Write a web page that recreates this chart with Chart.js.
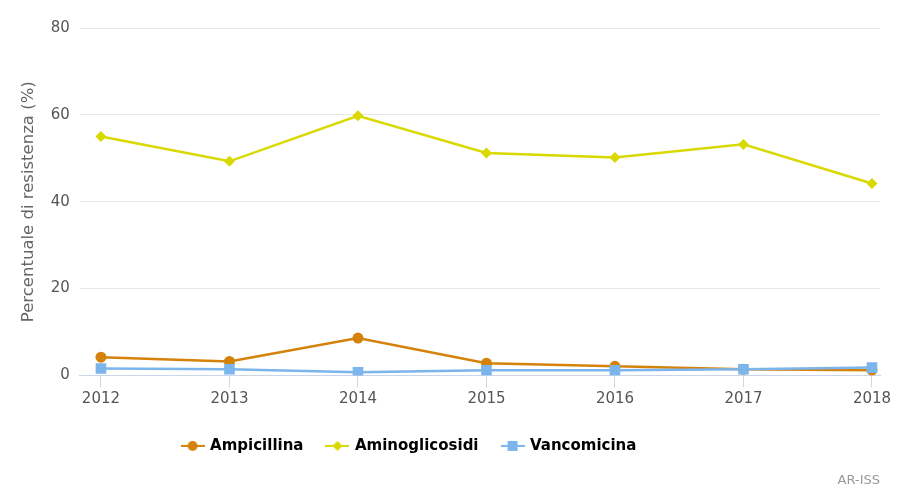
<!DOCTYPE html>
<html>
<head>
<meta charset="utf-8">
<title>Percentuale di resistenza</title>
<script src="https://cdn.jsdelivr.net/npm/chart.js@4.4.1/dist/chart.umd.min.js"></script>
<style>
    html, body { margin: 0; padding: 0; background: #ffffff; }
    #wrap { width: 897px; height: 493px; }
</style>
</head>
<body>
<div id="wrap"><canvas id="lineChart"></canvas></div>
<script>

/* ===============================
   DATA
=============================== */

const years = [2012, 2013, 2014, 2015, 2016, 2017, 2018];

const ampicillina = [4.2, 3.2, 8.6, 2.8, 2.1, 1.4, 1.2];

const aminoglicosidi = [55.0, 49.3, 59.8, 51.2, 50.2, 53.2, 44.2];

const vancomicina = [1.6, 1.4, 0.7, 1.2, 1.2, 1.4, 1.8];

const yTicks = [0, 20, 40, 60, 80];

const seriesNames = ["Ampicillina", "Aminoglicosidi", "Vancomicina"];

/* ===============================
   STYLE
=============================== */

const FONT = "'DejaVu Sans', sans-serif";

const COLORS = ["#d4820a", "#d9d900", "#7cb5ec"];

const STYLES = ["circle", "rectRot", "rect"];

const RADII = [5.5, 5.5, 7.5];

function toPoints(values) {
    return years.map((y, i) => ({ x: y, y: values[i] }));
}

/* legend symbol: short line with the marker on it */
function legendSymbol(color, style) {
    const c = document.createElement("canvas");
    c.width = 24;
    c.height = 14;
    const ctx = c.getContext("2d");
    ctx.strokeStyle = color;
    ctx.fillStyle = color;
    ctx.lineWidth = 2;
    ctx.beginPath();
    ctx.moveTo(0, 7);
    ctx.lineTo(24, 7);
    ctx.stroke();
    ctx.beginPath();
    if (style === "circle") {
        ctx.arc(12, 7, 5, 0, Math.PI * 2);
    } else if (style === "rectRot") {
        ctx.moveTo(12, 2);
        ctx.lineTo(17, 7);
        ctx.lineTo(12, 12);
        ctx.lineTo(7, 7);
        ctx.closePath();
    } else {
        ctx.rect(7, 2, 10, 10);
    }
    ctx.fill();
    return c;
}

const symbols = COLORS.map((c, i) => legendSymbol(c, STYLES[i]));

/* move legend a bit left, like the reference */
const legendShift = {
    id: "legendShift",
    afterLayout(chart) {
        if (chart.legend) {
            chart.legend.right -= 80;
        }
    }
};

const datasets = [ampicillina, aminoglicosidi, vancomicina].map((vals, i) => ({
    label: seriesNames[i],
    data: toPoints(vals),
    borderColor: COLORS[i],
    backgroundColor: COLORS[i],
    borderWidth: 2.5,
    pointStyle: STYLES[i],
    pointRadius: RADII[i],
    pointHoverRadius: RADII[i] + 1,
    pointBorderWidth: 0,
    tension: 0,
    order: 2 - i
}));

/* ===============================
   CHART
=============================== */

const lineChart = new Chart(document.getElementById("lineChart"), {

    type: "line",

    data: { datasets: datasets },

    plugins: [legendShift],

    options: {

        responsive: true,
        maintainAspectRatio: false,
        animation: false,

        layout: {
            padding: { top: 28, left: 19, right: 17, bottom: 2 }
        },

        plugins: {

            legend: {
                position: "bottom",
                labels: {
                    usePointStyle: true,
                    pointStyleWidth: 20,
                    padding: 24,
                    color: "#222222",
                    font: { family: FONT, size: 15, weight: "bold" },
                    generateLabels(chart) {
                        return chart.data.datasets.map((ds, i) => ({
                            text: ds.label,
                            fillStyle: ds.borderColor,
                            strokeStyle: ds.borderColor,
                            pointStyle: symbols[i],
                            lineWidth: 0,
                            hidden: !chart.isDatasetVisible(i),
                            datasetIndex: i
                        }));
                    }
                }
            },

            subtitle: {
                display: true,
                position: "bottom",
                align: "end",
                text: "AR-ISS",
                color: "#999999",
                font: { family: FONT, size: 13 },
                padding: { top: 9, bottom: 3 }
            },

            tooltip: { enabled: true }

        },

        scales: {

            x: {
                type: "linear",
                min: 2011.836,
                max: 2018.0625,
                afterBuildTicks: axis => {
                    axis.ticks = years.map(v => ({ value: v }));
                },
                afterFit: axis => {
                    axis.height += 3;
                },
                ticks: {
                    color: "#555555",
                    font: { family: FONT, size: 15 },
                    padding: 3,
                    maxRotation: 0,
                    callback: v => String(v)
                },
                grid: {
                    drawOnChartArea: false,
                    tickLength: 12,
                    color: "#ccd6eb"
                },
                border: { color: "#ccd6eb", width: 1 }
            },

            y: {
                min: 0,
                max: 80,
                afterBuildTicks: axis => {
                    axis.ticks = yTicks.map(v => ({ value: v }));
                },
                ticks: {
                    color: "#555555",
                    font: { family: FONT, size: 15 },
                    padding: 10
                },
                grid: {
                    color: "#e6e6e6",
                    drawTicks: false
                },
                border: { display: false },
                title: {
                    display: true,
                    text: "Percentuale di resistenza (%)",
                    color: "#666666",
                    font: { family: FONT, size: 16.5 },
                    padding: { top: 0, bottom: 2 }
                }
            }

        }

    }

});

</script>
</body>
</html>
